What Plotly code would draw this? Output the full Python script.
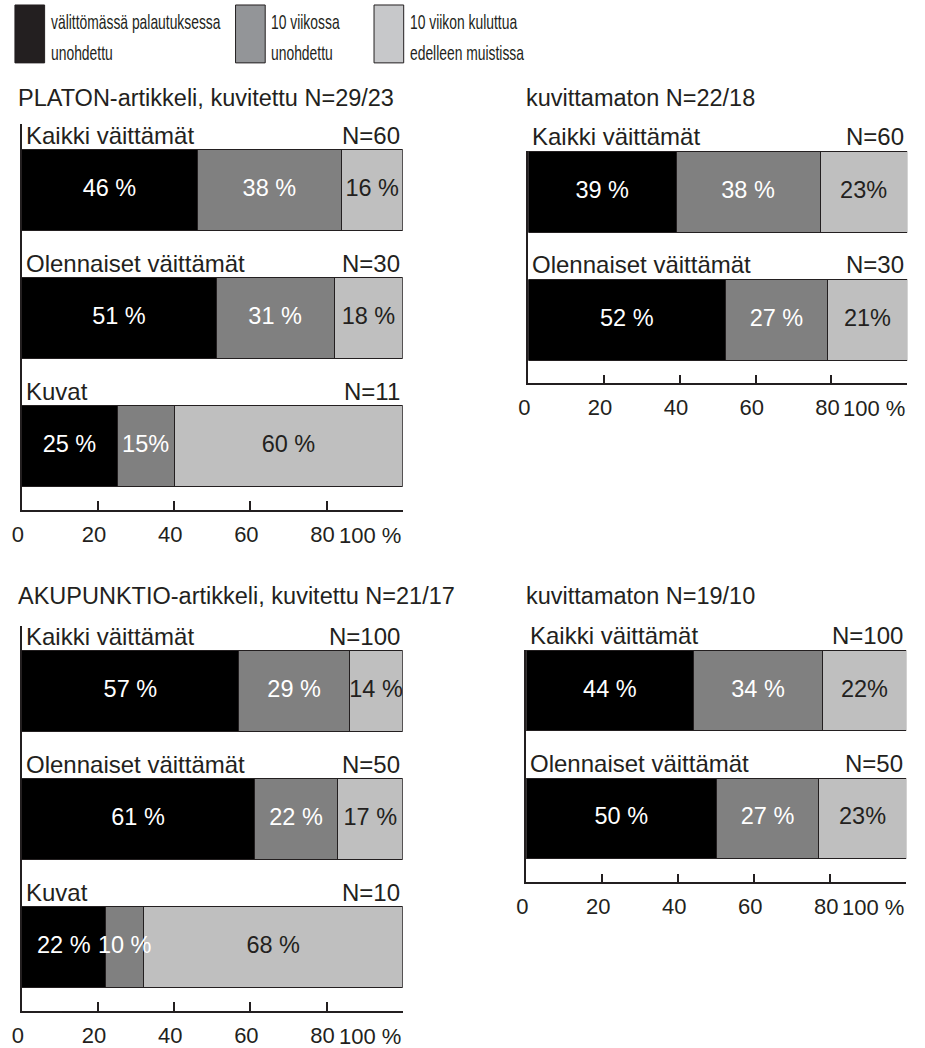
import plotly.graph_objects as go

# data
cats_3 = ["Kaikki väittämät", "Olennaiset väittämät", "Kuvat"]
cats_2 = ["Kaikki väittämät", "Olennaiset väittämät"]
series_names = [["välittömässä palautuksessa", "unohdettu"], ["10 viikossa", "unohdettu"],
                ["10 viikon kuluttua", "edelleen muistissa"]]

# PLATON, kuvitettu
platon_kuv_n = ["N=60", "N=30", "N=11"]
platon_kuv_now = [46, 51, 25]
platon_kuv_10w = [38, 31, 15]
platon_kuv_rem = [16, 18, 60]
platon_kuv_lbl = [["46 %", "51 %", "25 %"], ["38 %", "31 %", "15%"], ["16 %", "18 %", "60 %"]]

# PLATON, kuvittamaton
platon_ei_n = ["N=60", "N=30"]
platon_ei_now = [39, 52]
platon_ei_10w = [38, 27]
platon_ei_rem = [23, 21]
platon_ei_lbl = [["39 %", "52 %"], ["38 %", "27 %"], ["23%", "21%"]]

# AKUPUNKTIO, kuvitettu
aku_kuv_n = ["N=100", "N=50", "N=10"]
aku_kuv_now = [57, 61, 22]
aku_kuv_10w = [29, 22, 10]
aku_kuv_rem = [14, 17, 68]
aku_kuv_lbl = [["57 %", "61 %", "22 %"], ["29 %", "22 %", "10 %"], ["14 %", "17 %", "68 %"]]

# AKUPUNKTIO, kuvittamaton
aku_ei_n = ["N=100", "N=50"]
aku_ei_now = [44, 50]
aku_ei_10w = [34, 27]
aku_ei_rem = [22, 23]
aku_ei_lbl = [["44 %", "50 %"], ["34 %", "27 %"], ["22%", "23%"]]

titles = ["PLATON-artikkeli, kuvitettu N=29/23", "kuvittamaton N=22/18",
          "AKUPUNKTIO-artikkeli, kuvitettu N=21/17", "kuvittamaton N=19/10"]
tick_vals = [0, 20, 40, 60, 80, 100]
tick_text = ["0", "20", "40", "60", "80", ""]

W, H = 925, 1048
INK = "#231f20"
FONT = "Liberation Sans, Arial, sans-serif"
bar_cols = ["#000000", "#808080", "#bfbfbf"]
txt_cols = ["white", "white", INK]
leg_cols = ["#231f20", "#939598", "#c7c8ca"]

def px_x(p):
    return p / W

def px_y(p):
    return 1 - p / H

# panel: cats, n-labels, series, labels, x px range, y px range, y range, title pos
panels = [
    (cats_3, platon_kuv_n, [platon_kuv_now, platon_kuv_10w, platon_kuv_rem], platon_kuv_lbl,
     (12, 397), (124, 511), [2.5, -0.52], (6, 98)),
    (cats_2, platon_ei_n, [platon_ei_now, platon_ei_10w, platon_ei_rem], platon_ei_lbl,
     (524, 907), (151, 384), [1.494, -0.32], (520, 98)),
    (cats_3, aku_kuv_n, [aku_kuv_now, aku_kuv_10w, aku_kuv_rem], aku_kuv_lbl,
     (12, 397), (627, 1013), [2.5, -0.51], (6, 597)),
    (cats_2, aku_ei_n, [aku_ei_now, aku_ei_10w, aku_ei_rem], aku_ei_lbl,
     (522, 906), (651, 884), [1.5, -0.32], (520, 597)),
]

fig = go.Figure()
annotations = []
shapes = []
layout = {}

for i, (cats, ns, series, lbls, xr, yr, yrange, tpos) in enumerate(panels):
    k = "" if i == 0 else str(i + 1)
    xa, ya = "x" + k, "y" + k
    left = [0] * len(cats)
    for s, vals in enumerate(series):
        fig.add_trace(go.Bar(
            x=vals, y=cats, orientation="h", width=0.63,
            marker=dict(color=bar_cols[s], line=dict(color=INK, width=1)),
            xaxis=xa, yaxis=ya, showlegend=False, hoverinfo="skip"))
        mids = [l + v / 2 for l, v in zip(left, vals)]
        fig.add_trace(go.Scatter(
            x=mids, y=cats, mode="text", text=lbls[s],
            textfont=dict(color=txt_cols[s], size=23.5, family=FONT),
            xaxis=xa, yaxis=ya, showlegend=False, hoverinfo="skip"))
        left = [l + v for l, v in zip(left, vals)]

    layout["xaxis" + k] = dict(
        domain=[px_x(xr[0]), px_x(xr[1])], range=[0, 100], anchor=ya,
        tickvals=tick_vals, ticktext=tick_text, ticks="inside", ticklen=9,
        tickcolor=INK, tickwidth=1.5, showline=True, linecolor=INK, linewidth=1.5,
        ticklabelstandoff=4, ticklabelshift=-4,
        showgrid=False, zeroline=False, tickfont=dict(size=22, color=INK, family=FONT))
    layout["yaxis" + k] = dict(
        domain=[px_y(yr[1]), px_y(yr[0])], range=yrange, anchor=xa,
        type="category", categoryarray=cats, showline=True, linecolor=INK, linewidth=1.5,
        showticklabels=False, ticks="", showgrid=False, zeroline=False)

    # "100 %" label ends at the 100 tick
    annotations.append(dict(
        x=100, xref=xa, y=0, yref=ya + " domain", yshift=-25, xanchor="right",
        yanchor="middle", text="100 %", showarrow=False,
        font=dict(size=22, color=INK, family=FONT)))

    for c, n in zip(cats, ns):
        annotations.append(dict(
            x=0, xref=xa, y=c, yref=ya, xshift=2, yshift=55, xanchor="left",
            yanchor="middle", text=c, showarrow=False,
            font=dict(size=24, color=INK, family=FONT)))
        annotations.append(dict(
            x=100, xref=xa, y=c, yref=ya, xshift=-1, yshift=55, xanchor="right",
            yanchor="middle", text=n, showarrow=False,
            font=dict(size=24, color=INK, family=FONT)))

    annotations.append(dict(
        x=px_x(tpos[0]), xref="paper", y=px_y(tpos[1]), yref="paper",
        xanchor="left", yanchor="middle", text=titles[i], showarrow=False,
        font=dict(size=23.5, color=INK, family=FONT)))

# legend boxes, text is set in a condensed face in the original
leg_x = [5, 228, 368]
leg_tx = [39, 262, 402]
for j in range(3):
    shapes.append(dict(
        type="rect", xref="paper", yref="paper",
        x0=px_x(leg_x[j]), x1=px_x(leg_x[j] + 30), y0=px_y(63), y1=px_y(5),
        fillcolor=leg_cols[j], line=dict(color=INK, width=1)))
    for line, ly in zip(series_names[j], [22, 53]):
        annotations.append(dict(
            x=px_x(leg_tx[j]), xref="paper", y=px_y(ly), yref="paper",
            xanchor="left", yanchor="middle", align="left", text=line,
            showarrow=False, font=dict(size=21, color=INK, family=FONT)))

fig.update_layout(
    width=W, height=H, margin=dict(l=0, r=0, t=0, b=0),
    paper_bgcolor="white", plot_bgcolor="white", barmode="stack",
    annotations=annotations, shapes=shapes, **layout)

leg_lines = [t for pair in series_names for t in pair]
js = """
document.body.style.margin = '0';
var legLines = %s;
document.querySelectorAll('text.annotation-text').forEach(function (t) {
    if (legLines.indexOf(t.textContent) >= 0) {
        var w = t.getComputedTextLength();
        var nw = w * 0.66;
        t.setAttribute('textLength', nw.toFixed(1));
        t.setAttribute('lengthAdjust', 'spacingAndGlyphs');
        var bg = t.parentNode.querySelector('rect.bg');
        if (bg) {
            var bw = parseFloat(bg.getAttribute('width'));
            bg.setAttribute('width', (bw - (w - nw)).toFixed(1));
        }
    }
});
""" % str(leg_lines).replace("'", '"')

fig.write_html("out.html", config={"displayModeBar": False}, post_script=js)
